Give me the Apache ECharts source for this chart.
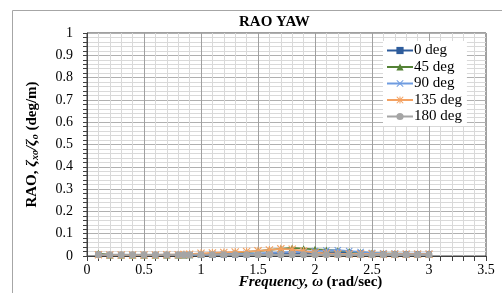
<!DOCTYPE html>
<html lang="en" style="height: 100%">
<head>
  <meta charset="utf-8">
  <title>RAO YAW</title>
</head>
<body style="height: 100%; margin: 0">
  <div id="container" style="width: 502px; height: 293px"></div>

  <script type="text/javascript" src="https://cdn.jsdelivr.net/npm/echarts@6/dist/echarts.min.js"></script>

  <script type="text/javascript">
    // frequency points (rad/sec)
    var freq = [0.1, 0.2, 0.3, 0.4, 0.5, 0.6, 0.7, 0.8, 0.85, 0.9, 1.0, 1.1, 1.2, 1.3, 1.4, 1.5,
      1.6, 1.7, 1.8, 1.9, 2.0, 2.1, 2.2, 2.3, 2.4, 2.5, 2.6, 2.7, 2.8, 2.9, 3.0];

    var names = ['0 deg', '45 deg', '90 deg', '135 deg', '180 deg'];

    var deg0 = [0.006, 0.004, 0.004, 0.004, 0.004, 0.004, 0.004, 0.004, 0.004, 0.004, 0.005, 0.005, 0.006, 0.006, 0.007, 0.008,
      0.009, 0.010, 0.012, 0.013, 0.014, 0.015, 0.016, 0.014, 0.012, 0.010, 0.009, 0.008, 0.008, 0.008, 0.008];
    var deg45 = [0.012, 0.005, 0.004, 0.004, 0.004, 0.004, 0.005, 0.005, 0.005, 0.006, 0.008, 0.010, 0.012, 0.015, 0.018, 0.022,
      0.027, 0.032, 0.036, 0.033, 0.030, 0.027, 0.024, 0.020, 0.016, 0.013, 0.011, 0.010, 0.009, 0.009, 0.009];
    var deg90 = [0.006, 0.005, 0.005, 0.005, 0.005, 0.005, 0.005, 0.005, 0.005, 0.005, 0.006, 0.007, 0.008, 0.009, 0.010, 0.012,
      0.014, 0.016, 0.018, 0.020, 0.022, 0.025, 0.026, 0.022, 0.018, 0.014, 0.012, 0.011, 0.010, 0.010, 0.010];
    var deg135 = [0.006, 0.005, 0.005, 0.005, 0.005, 0.005, 0.006, 0.006, 0.007, 0.008, 0.012, 0.014, 0.016, 0.018, 0.020, 0.023,
      0.027, 0.032, 0.030, 0.022, 0.015, 0.012, 0.010, 0.009, 0.009, 0.009, 0.008, 0.008, 0.008, 0.008, 0.008];
    var deg180 = [0.006, 0.006, 0.006, 0.006, 0.006, 0.006, 0.006, 0.006, 0.006, 0.006, 0.006, 0.006, 0.006, 0.006, 0.006, 0.006,
      0.006, 0.006, 0.006, 0.006, 0.006, 0.006, 0.006, 0.006, 0.006, 0.006, 0.006, 0.006, 0.006, 0.006, 0.006];

    var allValues = [deg0, deg45, deg90, deg135, deg180];
    var colors = ['#2E5C9C', '#548235', '#6F9CE0', '#F4A262', '#A5A5A5'];
    var crossPath = 'path://M0,1L1,0L5,4L9,0L10,1L6,5L10,9L9,10L5,6L1,10L0,9L4,5Z';
    var starPath = 'path://M0,1L1,0L5,4L9,0L10,1L6,5L10,9L9,10L5,6L1,10L0,9L4,5Z M4.3,0H5.7V10H4.3Z';
    var symbols = ['rect', 'triangle', crossPath, starPath, 'circle'];
    var sizes = [6, 7, 7, 8, 7];

    var serif = 'Liberation Serif';

    var dom = document.getElementById('container');
    var myChart = echarts.init(dom, null, { renderer: 'canvas' });

    var series = names.map(function (n, i) {
      return {
        name: n,
        type: 'line',
        data: freq.map(function (f, k) { return [f, allValues[i][k]]; }),
        symbol: symbols[i],
        symbolSize: sizes[i],
        lineStyle: { color: colors[i], width: 1.8 },
        itemStyle: { color: colors[i] },
        z: 3 + i
      };
    });

    var option = {
      animation: false,
      backgroundColor: '#fff',
      color: colors,
      title: {
        text: 'RAO YAW',
        left: 239,
        top: 15,
        padding: 0,
        textStyle: { fontFamily: serif, fontSize: 15, fontWeight: 'bold', color: '#000' }
      },
      graphic: [{
        type: 'rect',
        shape: { x: 12.5, y: 10.5, width: 600, height: 400 },
        style: { fill: null, stroke: '#A6A6A6', lineWidth: 1 },
        silent: true
      }],
      legend: {
        orient: 'vertical',
        left: 383,
        top: 41,
        padding: [2, 5, 2, 3],
        itemWidth: 26,
        itemHeight: 9,
        itemGap: 1.5,
        backgroundColor: '#fff',
        data: names,
        textStyle: { fontFamily: serif, fontSize: 15, lineHeight: 15, color: '#000', padding: [0, 0, 0, -4] }
      },
      grid: {
        left: 87,
        right: 16,
        top: 33,
        bottom: 37,
        outerBoundsMode: 'none',
        show: true,
        borderColor: '#404040',
        borderWidth: 1
      },
      xAxis: {
        type: 'value',
        min: 0,
        max: 3.5,
        interval: 0.5,
        name: '{b|Frequency, ω} {n|(rad/sec)}',
        nameLocation: 'middle',
        nameGap: 19,
        nameMoveOverlap: false,
        nameTextStyle: {
          padding: [0, 0, 0, 48],
          rich: {
            b: { fontFamily: serif, fontSize: 15, fontWeight: 'bold', fontStyle: 'italic', color: '#000' },
            n: { fontFamily: serif, fontSize: 15, fontWeight: 'bold', color: '#000' }
          }
        },
        axisLine: { onZero: false, lineStyle: { color: '#404040', width: 1 } },
        axisTick: { show: true, length: 5, lineStyle: { color: '#404040' } },
        minorTick: { show: true, splitNumber: 5, length: 5, lineStyle: { color: '#404040' } },
        axisLabel: { fontFamily: serif, fontSize: 14, color: '#000', margin: 7 },
        splitLine: { show: true, lineStyle: { color: '#A0A0A0', width: 1 } },
        minorSplitLine: { show: true, lineStyle: { color: '#D9D9D9', width: 1 } }
      },
      yAxis: {
        type: 'value',
        min: 0,
        max: 1,
        interval: 0.1,
        name: 'RAO, {i|ζ}{s|xo}{i|/ζ}{s|o} (deg/m)',
        nameLocation: 'middle',
        nameGap: 47,
        nameMoveOverlap: false,
        nameTextStyle: {
          fontFamily: serif, fontSize: 15, fontWeight: 'bold', color: '#000',
          rich: {
            i: { fontFamily: serif, fontSize: 15, fontStyle: 'italic', fontWeight: 'bold', color: '#000' },
            s: { fontFamily: serif, fontSize: 10, fontStyle: 'italic', fontWeight: 'bold', color: '#000', padding: [6, 0, 0, 0] }
          }
        },
        axisLine: { show: true, lineStyle: { color: '#404040', width: 1 } },
        axisTick: { show: true, length: 4, lineStyle: { color: '#404040' } },
        minorTick: { show: true, splitNumber: 5, length: 4, lineStyle: { color: '#404040' } },
        axisLabel: { fontFamily: serif, fontSize: 14, color: '#000', margin: 14 },
        splitLine: { show: true, lineStyle: { color: '#B0B0B0', width: 1 } },
        minorSplitLine: { show: true, lineStyle: { color: '#D9D9D9', width: 1 } }
      },
      series: series
    };

    myChart.setOption(option);

    window.addEventListener('resize', function () {
      myChart.resize();
    });
  </script>
</body>
</html>
